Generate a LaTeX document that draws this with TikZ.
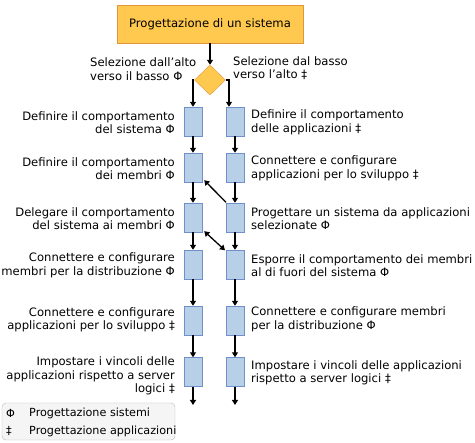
\documentclass[tikz,border=0pt]{standalone}
\usepackage{fontspec}
\setmainfont{DejaVu Sans}
\usetikzlibrary{arrows.meta,shapes.geometric}

\definecolor{topfill}{HTML}{FFC94F}
\definecolor{topline}{HTML}{E3953A}
\definecolor{stepfill}{HTML}{B8CFE8}
\definecolor{stepline}{HTML}{6F90CB}

\begin{document}
\begin{tikzpicture}[x=1pt,y=-1pt,font=\fontsize{11.6}{13.4}\selectfont]
    \useasboundingbox (0,0) rectangle (475,443);

    % title and choice
    \node [draw=topline,fill=topfill,minimum width=186pt,minimum height=38pt,inner sep=0pt] (title) at (210,24) {Progettazione di un sistema};
    \node [diamond,draw=topline,fill=topfill,minimum width=31pt,minimum height=30pt,inner sep=0pt] (choice) at (210,80) {};

    \node [anchor=west,align=left,inner sep=0pt] (topdown) at (90,69) {Selezione dall'alto\\verso il basso Φ};
    \node [anchor=west,align=left,inner sep=0pt] (bottomup) at (233,68) {Selezione dal basso\\verso l'alto ‡};

    % steps
    \begin{scope}[every node/.style={draw=stepline,fill=stepfill,minimum width=18pt,minimum height=29pt,inner sep=0pt}]
      \node (L1) at (193,121.5) {};
      \node (L2) at (193,167.5) {};
      \node (L3) at (193,217.5) {};
      \node (L4) at (193,264.5) {};
      \node (L5) at (193,320.5) {};
      \node (L6) at (193,372) {};
      \node (R1) at (235,121.5) {};
      \node (R2) at (235,167.5) {};
      \node (R3) at (235,217.5) {};
      \node (R4) at (235,264.5) {};
      \node (R5) at (235,320.5) {};
      \node (R6) at (235,372) {};
    \end{scope}
    \coordinate (Lend) at (193,405);
    \coordinate (Rend) at (235,405);

    % labels
    \begin{scope}[every node/.style={anchor=east,align=right,inner sep=0pt}]
      \node (l1) at (175,122.5) {Definire il comportamento\\del sistema Φ};
      \node (l2) at (175,168.5) {Definire il comportamento\\dei membri Φ};
      \node (l3) at (175,218.5) {Delegare il comportamento\\del sistema ai membri Φ};
      \node (l4) at (175,265.5) {Connettere e configurare\\membri per la distribuzione Φ};
      \node (l5) at (175,320) {Connettere e configurare\\applicazioni per lo sviluppo ‡};
      \node (l6) at (175,376) {Impostare i vincoli delle\\applicazioni rispetto a server\\logici ‡};
    \end{scope}
    \begin{scope}[every node/.style={anchor=west,align=left,inner sep=0pt}]
      \node (r1) at (251,122.5) {Definire il comportamento\\delle applicazioni ‡};
      \node (r2) at (251,168.5) {Connettere e configurare\\applicazioni per lo sviluppo ‡};
      \node (r3) at (251,218.5) {Progettare un sistema da applicazioni\\selezionate Φ};
      \node (r4) at (251,265.5) {Esporre il comportamento dei membri\\al di fuori del sistema Φ};
      \node (r5) at (251,319.5) {Connettere e configurare membri\\per la distribuzione Φ};
      \node (r6) at (251,373) {Impostare i vincoli delle applicazioni\\rispetto a server logici ‡};
    \end{scope}

    % connectors
    \begin{scope}[>={Triangle[length=5pt,width=6pt]},
        every path/.style={draw=black,line width=1.3pt}]
      \path [->] (title) -- (choice);
      \path [->] (choice.west) -| (L1.north);
      \path [->] (choice.east) -| ([xshift=-6pt]R1.north);
      \path [->] (L1) -- (L2);
      \path [->] (L2) -- (L3);
      \path [->] (L3) -- (L4);
      \path [->] (L4) -- (L5);
      \path [->] (L5) -- (L6);
      \path [->] (L6) -- (Lend);
      \path [->] (R1) -- (R2);
      \path [->] (R2) -- (R3);
      \path [->] (R3) -- (R4);
      \path [->] (R4) -- (R5);
      \path [->] (R5) -- (R6);
      \path [->] (R6) -- (Rend);
      \path [->] ([xshift=-9pt,yshift=0.5pt]R3.north) -- ([xshift=2pt,yshift=2pt]L2.south east);
      \path [<->] ([xshift=2pt,yshift=1pt]L3.south east) -- ([xshift=-10pt,yshift=-0.5pt]R4.north);
    \end{scope}

    % legend
    \node [draw=gray!55,fill=gray!8,rounded corners=4pt,minimum width=173pt,minimum height=37pt] (legend) at (88.5,421.5) {};
    \begin{scope}[every node/.style={anchor=west,inner sep=0pt,font=\fontsize{11.2}{13}\selectfont}]
      \node (sysmark) at (6,413) {Φ};
      \node (systext) at (29,413) {Progettazione sistemi};
      \node (appmark) at (6,431) {‡};
      \node (apptext) at (29,431) {Progettazione applicazioni};
    \end{scope}
\end{tikzpicture}
\end{document}
